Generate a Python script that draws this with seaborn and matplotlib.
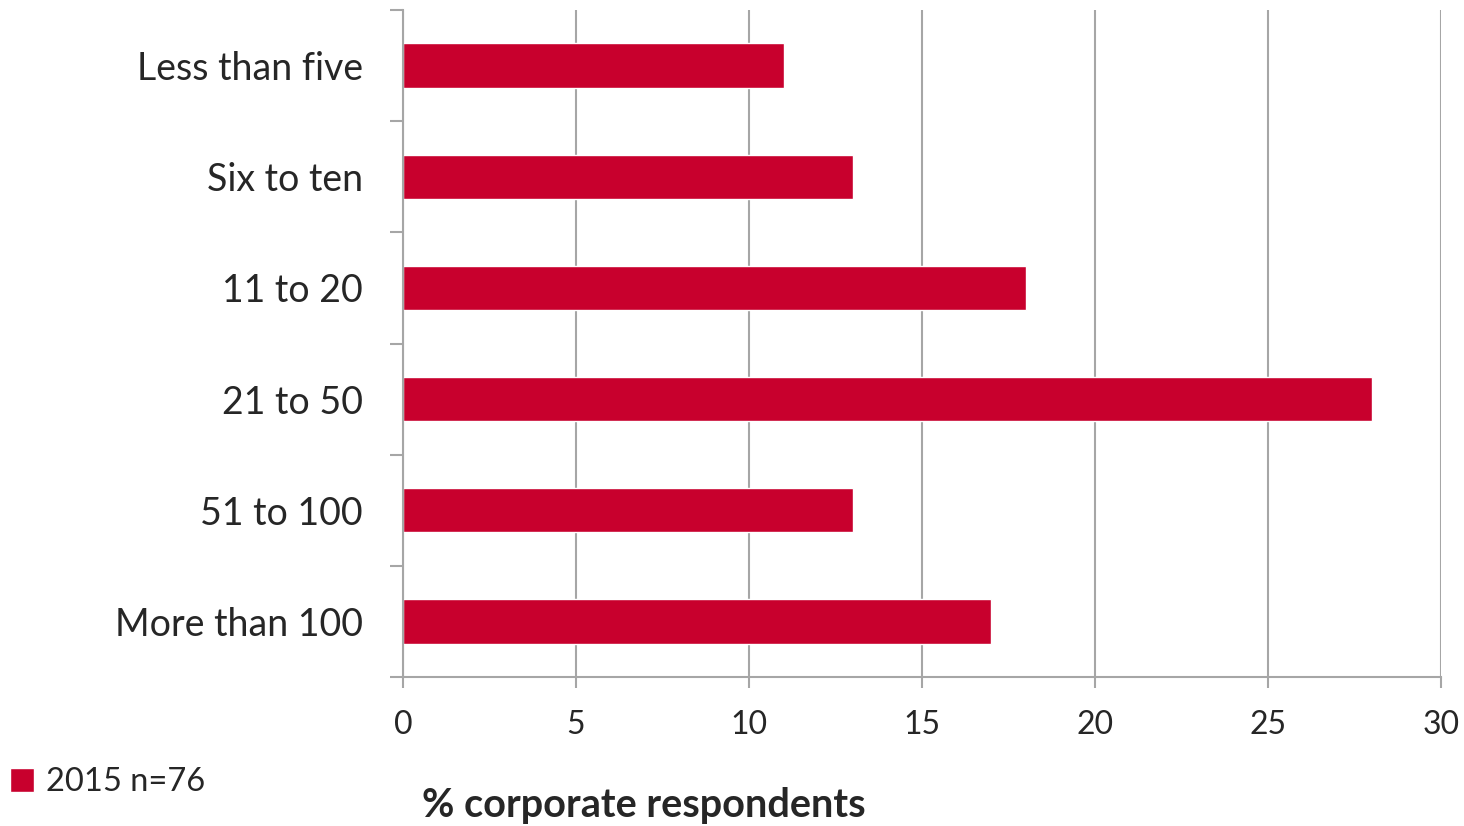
import matplotlib
matplotlib.use('Agg')
import matplotlib.pyplot as plt
import numpy as np
import seaborn as sns

# Data
categories = ['Less than five', 'Six to ten', '11 to 20', '21 to 50', '51 to 100', 'More than 100']
values = [11, 13, 18, 28, 13, 17]
x_ticks = [0, 5, 10, 15, 20, 25, 30]
series_label = '2015 n=76'

bar_color = '#C8002D'
grid_color = '#A6A6A6'

sns.set_style('white')
plt.rcParams['font.family'] = ['Lato', 'DejaVu Sans']

fig = plt.figure(figsize=(14.64, 8.26), dpi=100)
ax = fig.add_axes([403 / 1464, 1 - 677 / 826, (1441 - 403) / 1464, (677 - 10) / 826])

sns.barplot(x=values, y=categories, orient='h', color=bar_color, width=0.4,
            saturation=1, ax=ax, label=series_label)

ax.set_xlim(0, 30)
ax.set_ylim(len(categories) - 0.5, -0.5)
ax.set_xticks(x_ticks)
ax.set_xticklabels([str(t) for t in x_ticks], fontsize=23)
ax.tick_params(axis='x', bottom=True, length=8, width=1.5, color=grid_color, pad=16)

# Category boundaries carry the y tick marks, labels sit at the centres
ax.set_yticks(np.arange(len(categories)))
ax.set_yticklabels(categories, fontsize=27)
ax.set_yticks(np.arange(-0.5, len(categories)), minor=True)
ax.tick_params(axis='y', which='major', left=False, length=0, pad=29)
ax.tick_params(axis='y', which='minor', left=True, length=9.5, width=1.5, color=grid_color)

ax.xaxis.grid(True, color=grid_color, linewidth=1.5)
ax.set_axisbelow(True)
for side in ['top', 'right']:
    ax.spines[side].set_visible(False)
for side in ['left', 'bottom']:
    ax.spines[side].set_color(grid_color)
    ax.spines[side].set_linewidth(1.5)

ax.set_xlabel('')
ax.set_ylabel('')
fig.text(644 / 1464, 1 - 805 / 826, '% corporate respondents', fontsize=28.5,
         fontweight='bold', ha='center', va='center')

ax.legend(loc='center left', bbox_to_anchor=(10 / 1464, 1 - 782 / 826), bbox_transform=fig.transFigure,
          frameon=False, fontsize=23.5, handlelength=0.75, handleheight=0.75,
          handletextpad=0.35, borderaxespad=0, borderpad=0)

fig.savefig('out.png', dpi=100)
